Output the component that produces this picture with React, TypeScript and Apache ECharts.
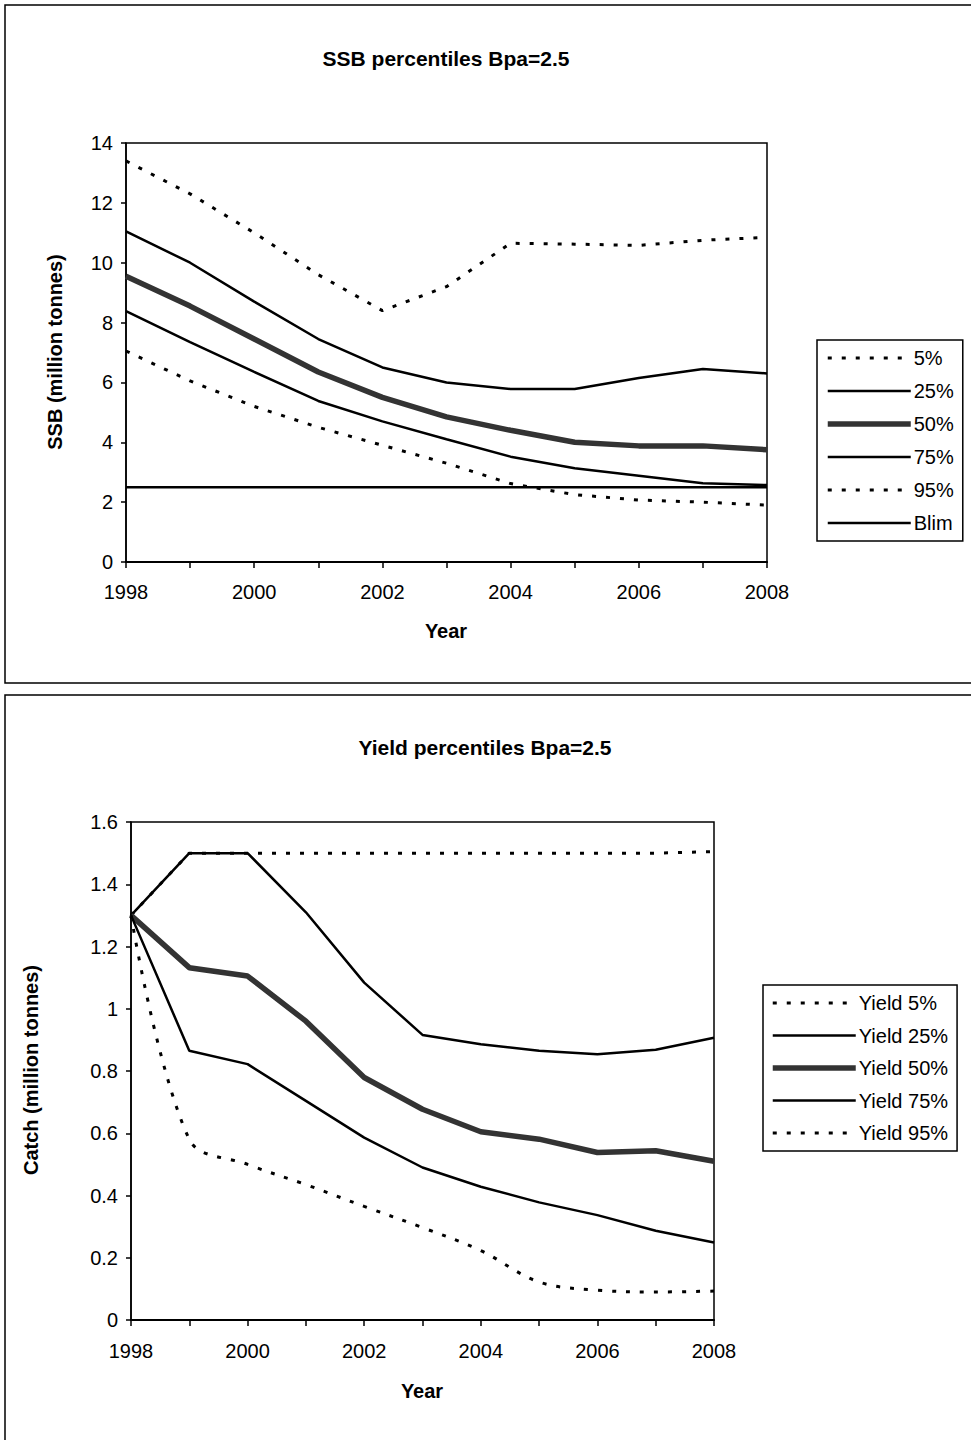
import React, { useEffect, useRef } from "react";
import * as echarts from "echarts";

const years = ["1998", "1999", "2000", "2001", "2002", "2003", "2004", "2005", "2006", "2007", "2008"];

const ssbNames = ["5%", "25%", "50%", "75%", "95%", "Blim"];
const ssb5 = [7.05, 6.05, 5.2, 4.5, 3.9, 3.3, 2.62, 2.25, 2.07, 2.0, 1.9];
const ssb25 = [8.38, 7.35, 6.35, 5.38, 4.7, 4.1, 3.52, 3.13, 2.88, 2.63, 2.57];
const ssb50 = [9.55, 8.55, 7.45, 6.35, 5.5, 4.85, 4.4, 4.0, 3.88, 3.88, 3.75];
const ssb75 = [11.05, 10.0, 8.7, 7.45, 6.5, 6.0, 5.78, 5.78, 6.15, 6.45, 6.3];
const ssb95 = [13.4, 12.3, 11.0, 9.6, 8.4, 9.2, 10.65, 10.62, 10.58, 10.75, 10.85];
const blim = [2.5, 2.5, 2.5, 2.5, 2.5, 2.5, 2.5, 2.5, 2.5, 2.5, 2.5];

const yieldNames = ["Yield 5%", "Yield 25%", "Yield 50%", "Yield 75%", "Yield 95%"];
const yield5 = [1.3, 0.58, 0.5, 0.435, 0.365, 0.297, 0.223, 0.122, 0.096, 0.09, 0.093];
const yield25 = [1.3, 0.865, 0.822, 0.704, 0.586, 0.49, 0.428, 0.378, 0.337, 0.287, 0.249];
const yield50 = [1.3, 1.132, 1.105, 0.96, 0.779, 0.677, 0.605, 0.581, 0.538, 0.544, 0.51];
const yield75 = [1.3, 1.5, 1.5, 1.31, 1.084, 0.916, 0.886, 0.865, 0.854, 0.868, 0.907];
const yield95 = [1.3, 1.5, 1.5, 1.5, 1.5, 1.5, 1.5, 1.5, 1.5, 1.5, 1.505];

const FONT = "'Liberation Sans', Arial, sans-serif";

const dotted = { color: "#000", width: 3, type: [4, 10] as any, cap: "butt" as any };
const solid = { color: "#000", width: 2.5 };
const thick = { color: "#333", width: 5.5 };
const ssbStyles = [dotted, solid, thick, solid, dotted, solid];
const yieldStyles = [dotted, solid, thick, solid, dotted];

function line(name: string, data: number[], style: any, gi: number, smooth: any = false) {
  return {
    name,
    type: "line",
    xAxisIndex: gi,
    yAxisIndex: gi,
    data,
    symbol: "none",
    smooth,
    lineStyle: style,
    itemStyle: { color: style.color },
    emphasis: { disabled: true },
  };
}

function legendData(names: string[], styles: any[]) {
  return names.map((n, i) => ({ name: n, lineStyle: { ...styles[i] }, itemStyle: { opacity: 0 } }));
}

export default function App() {
  const ref = useRef<HTMLDivElement>(null);
  useEffect(() => {
    document.body.style.margin = "0";
    const chart = echarts.init(ref.current!, null, { renderer: "svg" });
    const axisLabel = { color: "#000", fontSize: 20, fontFamily: FONT };
    const xAxisBase = {
      type: "category",
      data: years,
      boundaryGap: false,
      axisLine: { lineStyle: { color: "#000", width: 2 } },
      axisTick: { show: true, interval: 0, length: 6, lineStyle: { color: "#000", width: 1.5 } },
      axisLabel: { ...axisLabel, interval: 1, margin: 20 },
      splitLine: { show: false },
    };
    const yAxisBase = {
      type: "value",
      min: 0,
      axisLine: { show: true, lineStyle: { color: "#000", width: 1.5 } },
      axisTick: { show: true, length: 5, lineStyle: { color: "#000", width: 1.5 } },
      axisLabel: { ...axisLabel, margin: 13 },
      splitLine: { show: false },
    };
    const legendBase = {
      orient: "vertical",
      itemWidth: 83,
      itemHeight: 20,
      borderColor: "#000",
      borderWidth: 1.5,
      itemStyle: { opacity: 0 },
      textStyle: { color: "#000", fontSize: 20, fontFamily: FONT, padding: [0, 0, 0, -2] },
      selectedMode: false,
    };
    const option: any = {
      animation: false,
      backgroundColor: "#fff",
      grid: [
        { left: 126, top: 143, width: 641, height: 419, show: true, borderColor: "#000", borderWidth: 1.5, backgroundColor: "transparent" },
        { left: 131, top: 822, width: 583, height: 498, show: true, borderColor: "#000", borderWidth: 1.5, backgroundColor: "transparent" },
      ],
      xAxis: [
        { ...xAxisBase, gridIndex: 0 },
        { ...xAxisBase, gridIndex: 1, axisLabel: { ...axisLabel, interval: 1, margin: 21 } },
      ],
      yAxis: [
        { ...yAxisBase, gridIndex: 0, max: 14, interval: 2 },
        { ...yAxisBase, gridIndex: 1, max: 1.6, interval: 0.2 },
      ],
      legend: [
        { ...legendBase, data: legendData(ssbNames, ssbStyles), left: 817, top: 340, padding: [8, 9, 8, 8], itemGap: 13 },
        { ...legendBase, data: legendData(yieldNames, yieldStyles), left: 763, top: 985, padding: [8, 9, 8, 7], itemGap: 12.5 },
      ],
      series: [
        line("95%", ssb95, dotted, 0),
        line("75%", ssb75, solid, 0),
        line("50%", ssb50, thick, 0),
        line("25%", ssb25, solid, 0),
        line("5%", ssb5, dotted, 0),
        line("Blim", blim, solid, 0),
        line("Yield 95%", yield95, dotted, 1),
        line("Yield 75%", yield75, solid, 1),
        line("Yield 50%", yield50, thick, 1),
        line("Yield 25%", yield25, solid, 1),
        line("Yield 5%", yield5, dotted, 1, 0.35),
      ],
      graphic: [
        { type: "rect", shape: { x: 5, y: 5, width: 1000, height: 678 }, style: { fill: "none", stroke: "#000", lineWidth: 1.5 } },
        { type: "rect", shape: { x: 5, y: 695, width: 1000, height: 800 }, style: { fill: "none", stroke: "#000", lineWidth: 1.5 } },
        { type: "text", x: 446, y: 58, style: { text: "SSB percentiles Bpa=2.5", fontSize: 21, fontWeight: "bold", fontFamily: FONT, fill: "#000", align: "center", verticalAlign: "middle" } },
        { type: "text", x: 446, y: 631, style: { text: "Year", fontSize: 20, fontWeight: "bold", fontFamily: FONT, fill: "#000", align: "center", verticalAlign: "middle" } },
        { type: "text", x: 55, y: 352, rotation: Math.PI / 2, style: { text: "SSB (million tonnes)", fontSize: 20, fontWeight: "bold", fontFamily: FONT, fill: "#000", align: "center", verticalAlign: "middle" } },
        { type: "text", x: 485, y: 747, style: { text: "Yield percentiles Bpa=2.5", fontSize: 21, fontWeight: "bold", fontFamily: FONT, fill: "#000", align: "center", verticalAlign: "middle" } },
        { type: "text", x: 422, y: 1391, style: { text: "Year", fontSize: 20, fontWeight: "bold", fontFamily: FONT, fill: "#000", align: "center", verticalAlign: "middle" } },
        { type: "text", x: 31, y: 1070, rotation: Math.PI / 2, style: { text: "Catch (million tonnes)", fontSize: 20, fontWeight: "bold", fontFamily: FONT, fill: "#000", align: "center", verticalAlign: "middle" } },
      ],
    };
    chart.setOption(option);
    return () => chart.dispose();
  }, []);
  return <div ref={ref} style={{ position: "absolute", left: 0, top: 0, width: 971, height: 1440 }} />;
}
